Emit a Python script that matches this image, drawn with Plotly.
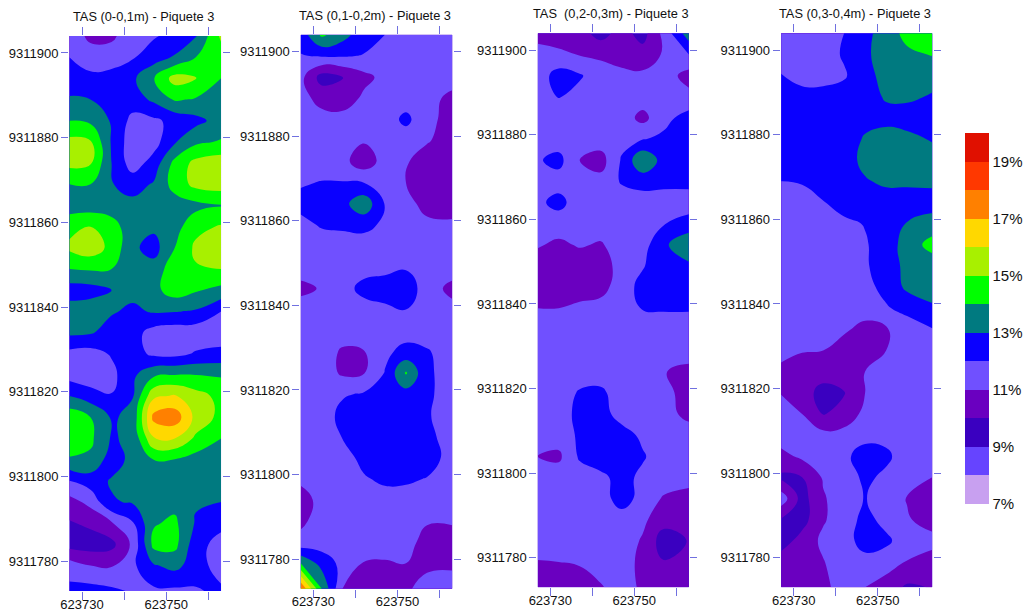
import plotly.graph_objects as go

# --- data -----------------------------------------------------------------
x_cols = [623727, 623732, 623737, 623742, 623747, 623752, 623757, 623763]
y_rows = [9311904, 9311899, 9311894, 9311889, 9311884, 9311879, 9311874, 9311869, 9311864,
          9311859, 9311854, 9311849, 9311844, 9311839, 9311834, 9311829, 9311824, 9311819,
          9311814, 9311809, 9311804, 9311799, 9311794, 9311789, 9311784, 9311779, 9311773]
x_ticks = [623730, 623740, 623750, 623760]
x_labels = ["623730", "", "623750", ""]
y_ticks = [9311780, 9311800, 9311820, 9311840, 9311860, 9311880, 9311900]
y_labels = [str(v) for v in y_ticks]
bar_ticks = [7, 9, 11, 13, 15, 17, 19]
bar_labels = ["7%", "9%", "11%", "13%", "15%", "17%", "19%"]
band_colors = ["#C8A0F0", "#6644FF", "#3A00C0", "#6A00C0", "#7050FF", "#0A00FF", "#007A80",
               "#00FF00", "#A8F000", "#FFD800", "#FF8000", "#FF3800", "#E01000"]
titles = ["TAS (0-0,1m) - Piquete 3", "TAS (0,1-0,2m) - Piquete 3",
          "TAS  (0,2-0,3m) - Piquete 3", "TAS (0,3-0,4m) - Piquete 3"]

tas_0_10 = [
    [11.5, 10.8, 10.8, 11.6, 11.9, 12.3, 12.9, 15.2],
    [12.0, 11.4, 11.5, 11.9, 12.5, 13.1, 14.0, 14.5],
    [12.5, 12.3, 12.4, 12.8, 13.95, 15.4, 15.1, 14.0],
    [13.1, 13.0, 12.4, 12.5, 13.2, 14.1, 13.9, 13.5],
    [14.0, 13.8, 12.9, 11.7, 11.8, 12.3, 12.7, 13.4],
    [15.3, 15.1, 12.9, 11.4, 11.6, 12.9, 13.8, 14.1],
    [15.3, 15.1, 13.0, 11.5, 12.4, 14.3, 15.3, 15.6],
    [14.0, 14.0, 13.05, 12.6, 13.1, 14.4, 15.3, 15.5],
    [13.5, 13.5, 13.4, 13.3, 13.4, 13.5, 13.7, 13.95],
    [14.7, 15.0, 14.5, 13.3, 13.2, 13.6, 14.7, 15.1],
    [15.2, 15.6, 14.7, 13.2, 12.6, 14.0, 15.2, 15.7],
    [14.0, 14.1, 14.0, 13.3, 13.4, 14.6, 14.9, 15.0],
    [12.5, 12.6, 13.0, 13.3, 13.7, 14.5, 14.1, 13.7],
    [13.5, 13.6, 13.1, 12.8, 13.1, 13.05, 12.9, 12.0],
    [13.2, 13.1, 12.6, 12.4, 11.6, 11.4, 11.4, 11.4],
    [11.7, 11.6, 12.1, 12.4, 11.8, 11.7, 12.1, 12.3],
    [11.6, 11.3, 11.7, 12.8, 13.8, 14.0, 14.0, 13.9],
    [13.0, 12.5, 12.05, 12.95, 15.8, 16.1, 15.4, 14.7],
    [14.7, 14.0, 12.9, 13.2, 17.3, 17.6, 15.7, 14.7],
    [14.6, 14.2, 12.9, 13.2, 15.9, 16.0, 14.8, 14.0],
    [13.9, 13.8, 12.5, 13.3, 14.0, 13.95, 13.6, 13.5],
    [12.0, 12.5, 13.1, 13.5, 13.5, 13.5, 13.5, 13.5],
    [10.6, 11.3, 12.9, 13.1, 13.5, 13.7, 13.1, 13.0],
    [9.9, 10.2, 10.9, 11.9, 13.9, 14.2, 12.9, 12.3],
    [9.6, 9.5, 9.7, 11.2, 14.3, 14.3, 12.4, 11.6],
    [11.5, 11.0, 10.9, 11.8, 12.9, 13.3, 12.5, 11.5],
    [12.3, 12.4, 12.2, 11.9, 11.8, 11.8, 11.9, 12.2],
]
tas_10_20 = [
    [12.4, 14.2, 13.4, 12.4, 12.0, 11.6, 11.5, 11.5],
    [11.95, 12.1, 12.1, 11.95, 11.6, 11.5, 11.5, 11.5],
    [11.3, 9.6, 9.95, 10.7, 11.3, 11.5, 11.5, 11.5],
    [11.4, 10.6, 10.4, 11.2, 11.5, 11.5, 11.4, 10.7],
    [11.5, 11.4, 11.4, 11.5, 11.5, 12.25, 11.3, 10.6],
    [11.5, 11.5, 11.5, 11.1, 11.5, 11.5, 11.1, 10.5],
    [11.5, 11.5, 11.3, 10.4, 11.4, 11.1, 10.5, 10.4],
    [11.9, 12.05, 12.05, 12.0, 11.6, 11.0, 10.5, 10.4],
    [12.3, 12.5, 12.7, 13.7, 11.95, 11.3, 10.7, 10.5],
    [11.7, 12.1, 12.2, 12.3, 11.8, 11.5, 11.2, 11.2],
    [11.5, 11.5, 11.5, 11.5, 11.5, 11.5, 11.5, 11.5],
    [11.5, 11.5, 11.5, 11.5, 11.7, 11.9, 11.5, 11.5],
    [10.7, 11.1, 11.5, 12.4, 12.5, 12.6, 11.5, 10.7],
    [11.5, 11.5, 11.5, 11.5, 11.8, 12.0, 11.6, 11.3],
    [11.5, 11.5, 11.5, 11.5, 11.5, 11.6, 11.5, 11.5],
    [11.5, 11.5, 10.85, 10.95, 11.8, 12.3, 12.1, 11.5],
    [11.5, 11.5, 10.85, 10.95, 12.05, 14.1, 12.2, 11.5],
    [11.5, 11.5, 11.9, 12.1, 12.4, 12.6, 12.2, 11.5],
    [11.5, 11.5, 12.3, 12.5, 12.6, 12.6, 12.1, 11.5],
    [11.5, 11.5, 12.05, 12.5, 12.6, 12.6, 12.3, 11.5],
    [11.5, 11.5, 11.6, 12.3, 12.6, 12.6, 12.6, 11.5],
    [11.2, 11.5, 11.5, 11.9, 12.2, 12.2, 11.95, 11.5],
    [10.6, 11.3, 11.5, 11.5, 11.6, 11.5, 11.5, 11.5],
    [10.8, 11.4, 11.5, 11.5, 11.5, 11.5, 11.1, 11.1],
    [11.3, 11.5, 11.5, 11.5, 11.5, 11.4, 10.6, 10.6],
    [14.0, 12.6, 11.7, 10.95, 10.9, 11.0, 10.7, 10.8],
    [18.0, 14.0, 10.95, 10.6, 10.6, 10.8, 11.5, 11.5],
]
tas_20_30 = [
    [10.5, 10.5, 10.4, 9.6, 10.4, 9.6, 11.3, 13.6],
    [11.5, 11.2, 10.95, 10.8, 10.5, 10.4, 11.1, 12.0],
    [11.5, 12.4, 12.1, 11.5, 11.3, 11.2, 11.5, 10.6],
    [11.5, 12.05, 11.7, 11.5, 11.5, 11.5, 11.5, 11.3],
    [11.5, 11.5, 11.5, 11.5, 11.5, 10.7, 11.7, 12.4],
    [11.5, 11.5, 11.5, 11.5, 11.7, 11.95, 12.2, 12.6],
    [11.9, 12.3, 11.0, 10.6, 12.1, 13.9, 12.6, 12.5],
    [11.5, 11.6, 11.5, 11.3, 12.1, 12.4, 12.3, 12.3],
    [11.8, 12.3, 11.5, 11.5, 11.5, 11.5, 11.5, 11.5],
    [11.5, 11.5, 11.5, 11.5, 11.5, 11.5, 11.95, 12.4],
    [11.1, 10.8, 11.1, 10.9, 11.5, 11.6, 12.8, 13.8],
    [10.5, 10.4, 10.4, 10.5, 11.4, 11.95, 12.4, 12.8],
    [10.4, 10.4, 10.3, 10.5, 11.7, 12.2, 12.5, 12.6],
    [11.0, 11.0, 11.3, 11.5, 11.6, 12.05, 12.1, 12.1],
    [11.5, 11.5, 11.5, 11.5, 11.5, 11.5, 11.5, 11.5],
    [11.5, 11.5, 11.5, 11.5, 11.5, 11.5, 11.5, 11.5],
    [11.5, 11.5, 11.5, 11.5, 11.5, 11.5, 11.05, 10.7],
    [11.5, 11.5, 12.1, 12.2, 11.5, 11.5, 11.3, 10.6],
    [11.5, 11.5, 12.3, 12.4, 11.6, 11.5, 11.4, 10.7],
    [11.5, 11.5, 12.15, 12.4, 12.4, 11.8, 11.5, 11.5],
    [11.0, 10.8, 12.15, 12.5, 12.5, 12.1, 11.5, 11.5],
    [11.5, 11.5, 11.5, 11.8, 12.3, 11.8, 11.5, 11.5],
    [11.5, 11.5, 11.5, 11.5, 12.5, 11.6, 10.9, 10.5],
    [11.5, 11.5, 11.5, 11.5, 11.5, 11.2, 10.4, 10.2],
    [11.5, 11.5, 11.5, 11.5, 11.5, 10.9, 9.5, 10.05],
    [10.95, 11.0, 11.1, 11.5, 11.5, 10.7, 10.05, 10.3],
    [10.5, 10.4, 10.5, 10.9, 11.5, 10.8, 10.5, 10.6],
]
tas_30_40 = [
    [11.5, 11.5, 11.5, 12.0, 12.7, 13.5, 14.3, 14.9],
    [11.5, 11.5, 11.6, 12.1, 12.8, 13.5, 13.8, 14.05],
    [12.05, 11.7, 11.7, 11.9, 12.6, 13.4, 13.5, 13.4],
    [12.5, 12.3, 12.3, 12.4, 12.6, 13.1, 13.2, 12.9],
    [12.5, 12.5, 12.5, 12.5, 12.7, 12.7, 12.5, 12.5],
    [12.5, 12.5, 12.5, 12.5, 13.1, 13.4, 13.3, 12.9],
    [12.5, 12.5, 12.5, 12.5, 13.3, 13.5, 13.5, 13.5],
    [12.0, 12.1, 12.5, 12.5, 12.9, 13.2, 13.2, 13.2],
    [11.6, 11.5, 11.95, 12.4, 12.5, 12.5, 12.5, 12.6],
    [11.5, 11.5, 11.5, 11.8, 12.05, 12.5, 13.05, 13.4],
    [11.5, 11.5, 11.5, 11.5, 11.9, 12.5, 13.4, 14.4],
    [11.5, 11.5, 11.5, 11.5, 11.9, 12.4, 13.3, 13.4],
    [11.5, 11.5, 11.5, 11.5, 11.7, 12.3, 13.2, 13.3],
    [11.5, 11.5, 11.5, 11.5, 11.3, 11.9, 12.3, 12.9],
    [11.5, 11.5, 11.5, 11.1, 10.8, 10.9, 11.5, 11.95],
    [11.4, 11.05, 11.0, 10.7, 10.5, 11.0, 11.5, 11.5],
    [10.7, 10.6, 10.5, 10.5, 11.0, 11.5, 11.5, 11.5],
    [10.95, 10.5, 9.6, 9.95, 11.0, 11.5, 11.5, 11.5],
    [11.5, 11.0, 9.95, 10.3, 11.3, 11.5, 11.5, 11.5],
    [11.5, 11.5, 11.3, 11.4, 11.7, 11.7, 11.5, 11.5],
    [10.7, 11.2, 11.5, 11.8, 12.4, 12.2, 11.5, 11.5],
    [9.8, 10.0, 11.1, 11.5, 12.2, 11.8, 11.5, 11.0],
    [11.6, 9.6, 10.9, 11.5, 12.05, 11.5, 10.95, 10.5],
    [9.9, 9.6, 10.9, 11.5, 12.3, 11.7, 11.1, 10.6],
    [9.5, 10.4, 11.2, 11.5, 12.5, 12.2, 11.5, 11.3],
    [10.5, 10.4, 10.95, 11.5, 11.6, 11.5, 10.95, 10.6],
    [10.3, 10.3, 10.7, 11.5, 11.0, 10.5, 9.85, 10.05],
]
panel_values = [tas_0_10, tas_10_20, tas_20_30, tas_30_40]

# --- layout, in page pixels ------------------------------------------------
W, H = 1027, 613
panels = [  # left, right, top, bottom of the plot rectangle; title centre x, y
    (69.0, 221.5, 36.0, 591.0, 143, 16),
    (300.3, 452.7, 34.7, 588.7, 375, 15),
    (537.3, 689.3, 33.3, 587.3, 611, 13),
    (780.7, 932.7, 33.3, 587.3, 855, 13),
]
FONT = "Liberation Sans, Arial, sans-serif"
TICK = "#7070E0"
n = len(band_colors)
colorscale = []
for i, c in enumerate(band_colors):
    colorscale += [[i / n, c], [(i + 1) / n, c]]

fig = go.Figure()
layout = dict(width=W, height=H, margin=dict(l=0, r=0, t=0, b=0, autoexpand=False), autosize=False,
              paper_bgcolor="white", plot_bgcolor="white", showlegend=False,
              font=dict(family=FONT, color="#111111"), annotations=[])
for i, (l, r, t, b, tx, ty) in enumerate(panels):
    sfx = "" if i == 0 else str(i + 1)
    z = panel_values[i][::-1]
    fig.add_trace(go.Contour(
        x=x_cols, y=y_rows[::-1], z=z, xaxis="x" + sfx, yaxis="y" + sfx,
        zmin=7, zmax=20, colorscale=colorscale, autocontour=False,
        contours=dict(start=7, end=20, size=1, coloring="fill", showlines=False),
        line=dict(width=0, smoothing=1.3), hoverinfo="skip",
        showscale=(i == 0),
        colorbar=dict(x=965 / W, xanchor="left", xpad=0, y=1 - 133 / H, yanchor="top", ypad=0,
                      len=371, lenmode="pixels", thickness=24, thicknessmode="pixels",
                      outlinewidth=0, ticks="", tickmode="array", tickvals=bar_ticks,
                      ticktext=bar_labels, tickfont=dict(size=15, family=FONT, color="#111111")),
    ))
    layout["xaxis" + sfx] = dict(domain=[l / W, r / W], anchor="y" + sfx, range=[623726.9, 623763.1],
                                 tickmode="array", tickvals=x_ticks, ticktext=x_labels, automargin=False,
                                 ticks="outside", ticklen=8, tickcolor=TICK, mirror="ticks",
                                 ticklabelstandoff=-7,
                                 showgrid=False, zeroline=False, tickfont=dict(size=13, family=FONT),
                                 tickangle=0)
    layout["yaxis" + sfx] = dict(domain=[1 - b / H, 1 - t / H], anchor="x" + sfx, range=[9311773, 9311904],
                                 tickmode="array", tickvals=y_ticks, ticktext=y_labels, automargin=False,
                                 ticks="outside", ticklen=7, tickcolor=TICK, mirror="ticks",
                                 showgrid=False, zeroline=False, tickfont=dict(size=13, family=FONT))
    layout["annotations"].append(dict(text=titles[i], xref="paper", yref="paper", x=tx / W, y=1 - ty / H,
                                      xanchor="center", yanchor="middle", showarrow=False,
                                      font=dict(size=12.8, family=FONT, color="#111111")))
fig.update_layout(**layout)
fig.write_html("out.html", config={"displayModeBar": False},
               post_script="document.body.style.margin='0';")
